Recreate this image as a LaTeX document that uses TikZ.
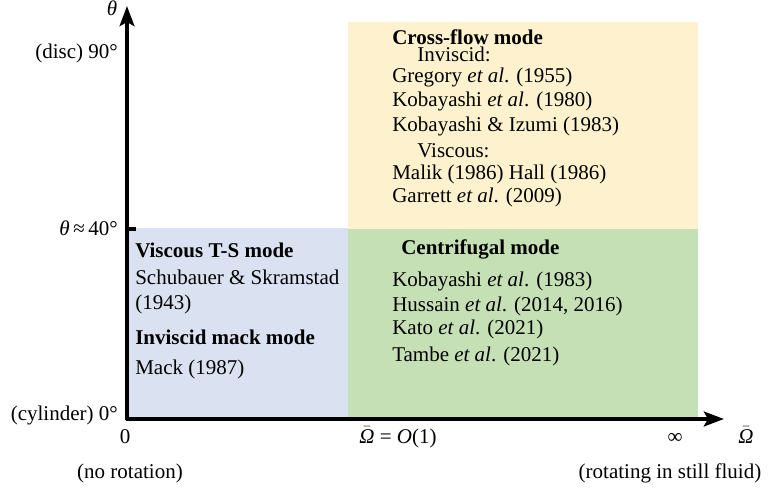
\documentclass[tikz,border=0pt]{standalone}
\usepackage{fontspec}
\setmainfont{Liberation Serif}
\usetikzlibrary{arrows.meta}
\definecolor{tsblue}{RGB}{218,226,242}
\definecolor{cfyellow}{RGB}{254,242,206}
\definecolor{cggreen}{RGB}{198,224,182}
\begin{document}
\begin{tikzpicture}
[x=0.75pt,y=-0.75pt,%
  textdecorate/.style={font=\fontsize{15.75}{19}\selectfont,inner sep=0pt},%
  refdecorate/.style={textdecorate,anchor=base west},%
  modedecorate/.style={refdecorate,font=\fontsize{15.75}{19}\selectfont\bfseries},%
  leftdecorate/.style={textdecorate,anchor=base east},%
  belowdecorate/.style={textdecorate,anchor=base},%
  axisdecorate/.style={line width=3pt,-{Stealth[length=15pt,width=11pt,inset=3pt]}}]
\useasboundingbox (0,0) rectangle (768,488);
% regions
\fill[tsblue] (128,228) rectangle (348,417);
\fill[cggreen] (348,229) rectangle (698,417);
\fill[cfyellow] (348,22) rectangle (698,229);
% axes
\coordinate (o) at (127,419);
\coordinate (ytop) at (127,6);
\coordinate (xend) at (724,419);
\coordinate (tick) at (136,229);
\draw[axisdecorate] (127,420.5) -- (ytop);
\draw[axisdecorate] (125.5,419) -- (xend);
\draw[line width=3pt] (127,229) -- (tick);
% axis labels
\node (theta) at (112,16) [leftdecorate,anchor=base] {\textit{θ}};
\node (disc) at (118,59) [leftdecorate] {(disc) 90°};
\node (forty) at (118,236) [leftdecorate] {\textit{θ}\,≈\,40°};
\node (cyl) at (118,421) [leftdecorate] {(cylinder) 0°};
\node (zero) at (125,443) [belowdecorate] {0};
\node (order) at (398,443) [belowdecorate] {$\bar{\mbox{\textit{Ω}}}$ = \textit{O}(1)};
\node (inf) at (675,443) [belowdecorate] {∞};
\node (omega) at (746,443) [belowdecorate] {$\bar{\mbox{\textit{Ω}}}$};
\node (norot) at (130,478) [belowdecorate] {(no rotation)};
\node (still) at (670,478) [belowdecorate] {(rotating in still fluid)};
% viscous T-S and mack modes
\node (ts) at (135,258) [modedecorate] {Viscous T-S mode};
\node (schub) at (135,285) [refdecorate] {Schubauer \& Skramstad};
\node (schuby) at (135,310) [refdecorate] {(1943)};
\node (mack) at (135,345) [modedecorate] {Inviscid mack mode};
\node (macky) at (135,375) [refdecorate] {Mack (1987)};
% cross-flow mode
\node (cf) at (392,45) [modedecorate] {Cross-flow mode};
\node (inv) at (417,62) [refdecorate] {Inviscid:};
\node (greg) at (392,83) [refdecorate] {Gregory \textit{et al}. (1955)};
\node (koba) at (392,107) [refdecorate] {Kobayashi \textit{et al}. (1980)};
\node (kobb) at (392,132) [refdecorate] {Kobayashi \& Izumi (1983)};
\node (visc) at (417,158) [refdecorate] {Viscous:};
\node (malik) at (392,180) [refdecorate] {Malik (1986) Hall (1986)};
\node (garr) at (392,203) [refdecorate] {Garrett \textit{et al}. (2009)};
% centrifugal mode
\node (cg) at (401,255) [modedecorate] {Centrifugal mode};
\node (kobc) at (392,287) [refdecorate] {Kobayashi \textit{et al}. (1983)};
\node (huss) at (392,312) [refdecorate] {Hussain \textit{et al}. (2014, 2016)};
\node (kato) at (392,335) [refdecorate] {Kato \textit{et al}. (2021)};
\node (tambe) at (392,362) [refdecorate] {Tambe \textit{et al}. (2021)};
\end{tikzpicture}
\end{document}
